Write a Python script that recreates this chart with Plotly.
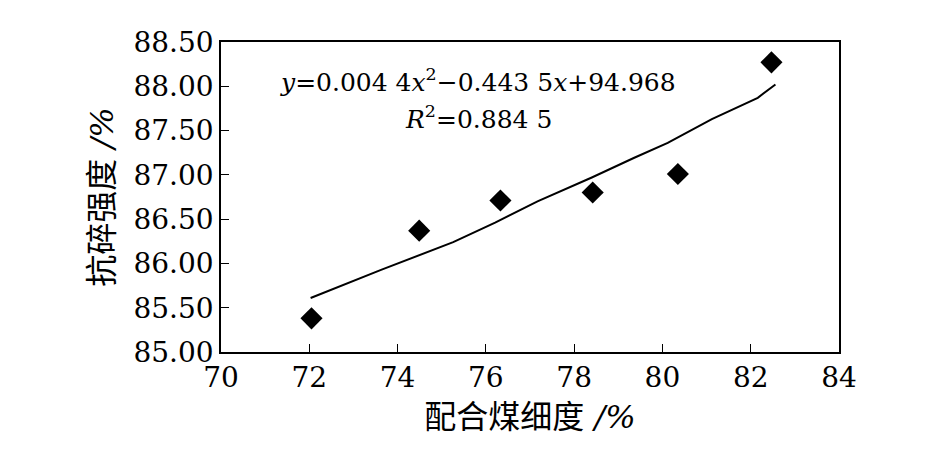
import plotly.graph_objects as go

# Data
x_points = [72.05, 74.49, 76.33, 78.42, 80.35, 82.47]
y_points = [85.38, 86.37, 86.71, 86.80, 87.01, 88.27]

trend_x = [72.03, 73.64, 75.26, 76.21, 77.17, 78.40, 79.35, 80.12, 81.12, 82.16, 82.56]
trend_y = [85.61, 85.93, 86.24, 86.46, 86.70, 86.97, 87.19, 87.36, 87.63, 87.87, 88.02]

x_ticks = [70, 72, 74, 76, 78, 80, 82, 84]
y_ticks = [85.00, 85.50, 86.00, 86.50, 87.00, 87.50, 88.00, 88.50]
y_tick_labels = [f"{v:.2f}" for v in y_ticks]

serif = "DejaVu Serif"
cjk = "DejaVu Serif, Noto Sans CJK SC"

fig = go.Figure()
fig.add_trace(go.Scatter(x=trend_x, y=trend_y, mode="lines",
                         line=dict(color="black", width=2), showlegend=False))
fig.add_trace(go.Scatter(x=x_points, y=y_points, mode="markers",
                         marker=dict(symbol="diamond", size=17, color="black"),
                         showlegend=False))

fig.add_annotation(x=0.416, y=0.877, xref="paper", yref="paper",
                   text="<i>y</i>=0.004 4<i>x</i><sup>2</sup>−0.443 5<i>x</i>+94.968",
                   showarrow=False, font=dict(family=serif, size=25, color="black"),
                   xanchor="center", yanchor="middle")
fig.add_annotation(x=0.416, y=0.758, xref="paper", yref="paper",
                   text="<i>R</i><sup>2</sup>=0.884 5",
                   showarrow=False, font=dict(family=serif, size=25, color="black"),
                   xanchor="center", yanchor="middle")

fig.update_layout(
    width=945, height=473,
    margin=dict(l=213, r=114, t=34, b=129),
    paper_bgcolor="white", plot_bgcolor="white",
    font=dict(family=serif, color="black"),
    xaxis=dict(range=[70, 84], tickvals=x_ticks, ticks="inside", ticklen=8,
               tickcolor="black", showline=True, linecolor="black", linewidth=1.5,
               mirror=True, showgrid=False, zeroline=False,
               tickfont=dict(family=serif, size=28),
               title=dict(text="配合煤细度 <i>/%</i>", font=dict(family=cjk, size=32), standoff=12)),
    yaxis=dict(range=[85.0, 88.5], tickvals=y_ticks, ticktext=y_tick_labels,
               ticks="inside", ticklen=8, tickcolor="black", showline=True,
               linecolor="black", linewidth=1.5, mirror=True, showgrid=False,
               zeroline=False, tickfont=dict(family=serif, size=28),
               title=dict(text="抗碎强度 <i>/%</i>", font=dict(family=cjk, size=32), standoff=10)),
)

fig.write_html("out.html")
